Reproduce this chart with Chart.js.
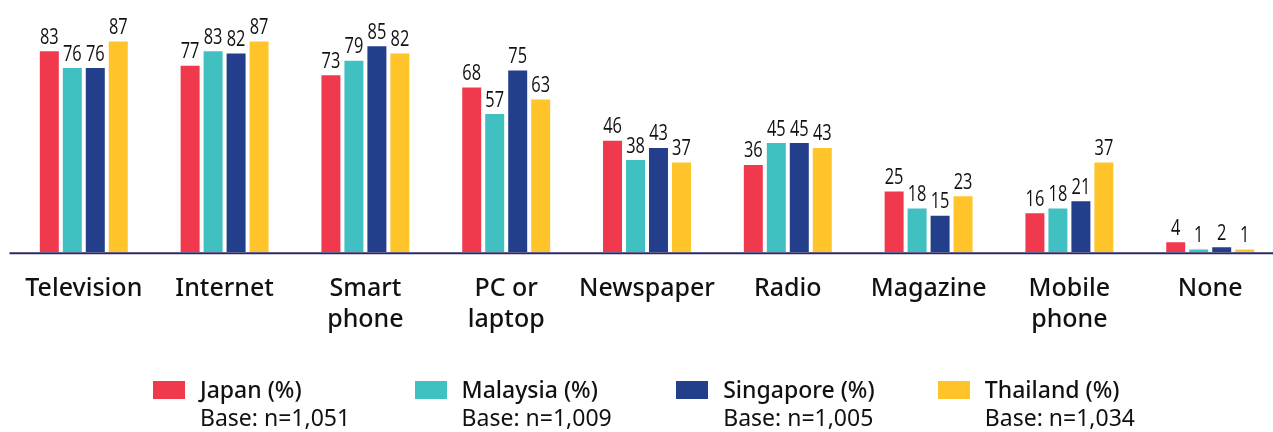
<!DOCTYPE html>
<html>
<head>
<meta charset="utf-8">
<script src="https://cdn.jsdelivr.net/npm/chart.js@4.4.1/dist/chart.umd.min.js"></script>
<style>
  html, body { margin: 0; padding: 0; background: #ffffff; overflow: hidden; width: 1273px; height: 432px; }
  #wrap { position: absolute; left: 0; top: 0; width: 1282px; height: 432px; }
  #legend { position: absolute; left: 0; top: 0; width: 1273px; height: 432px; pointer-events: none; }
  .lg-item { position: absolute; top: 381px; }
  .lg-box { position: absolute; left: 0; top: 0; width: 32px; height: 18px; }
  .lg-text { position: absolute; left: 47px; top: -6px; white-space: nowrap; font-family: "Noto Sans", sans-serif; color: #111; font-size: 23px; line-height: 28px; }
  .lg-text .name { font-weight: 500; }
</style>
</head>
<body>
<div id="wrap"><canvas id="c" width="1282" height="432"></canvas></div>
<div id="legend"></div>
<script>
const categories = [["Television"], ["Internet"], ["Smart", "phone"], ["PC or", "laptop"], ["Newspaper"], ["Radio"], ["Magazine"], ["Mobile", "phone"], ["None"]];
const japan     = [83, 77, 73, 68, 46, 36, 25, 16, 4];
const malaysia  = [76, 83, 79, 57, 38, 45, 18, 18, 1];
const singapore = [76, 82, 85, 75, 43, 45, 15, 21, 2];
const thailand  = [87, 87, 82, 63, 37, 43, 23, 37, 1];
const seriesNames = ["Japan (%)", "Malaysia (%)", "Singapore (%)", "Thailand (%)"];
const seriesBases = ["Base: n=1,051", "Base: n=1,009", "Base: n=1,005", "Base: n=1,034"];
const seriesColors = ["#F0394D", "#41C0C1", "#233E8B", "#FEC42A"];

const seriesData = [japan, malaysia, singapore, thailand];

const valueLabels = {
  id: "valueLabels",
  afterDatasetsDraw(chart) {
    const ctx = chart.ctx;
    chart.data.datasets.forEach((ds, i) => {
      const meta = chart.getDatasetMeta(i);
      meta.data.forEach((bar, j) => {
        ctx.save();
        ctx.font = '21px "Open Sans", sans-serif';
        ctx.fillStyle = "#111";
        ctx.textAlign = "center";
        ctx.textBaseline = "alphabetic";
        ctx.translate(bar.x, bar.y - 7.5);
        ctx.scale(0.78, 1);
        ctx.fillText(String(ds.data[j]), 0, 0);
        ctx.restore();
      });
    });
  }
};

const baseLine = {
  id: "baseLine",
  afterDatasetsDraw(chart) {
    const ctx = chart.ctx;
    const y = chart.scales.y.getPixelForValue(0) + 1.3;
    ctx.save();
    ctx.strokeStyle = "#2E2A66";
    ctx.lineWidth = 2;
    ctx.beginPath();
    ctx.moveTo(9.5, y);
    ctx.lineTo(chart.width, y);
    ctx.stroke();
    ctx.restore();
  }
};

new Chart(document.getElementById("c"), {
  type: "bar",
  data: {
    labels: categories,
    datasets: seriesData.map((d, i) => ({
      label: seriesNames[i],
      data: d,
      backgroundColor: seriesColors[i],
      borderWidth: 0,
      categoryPercentage: 0.653,
      barPercentage: 0.826
    }))
  },
  options: {
    responsive: false,
    animation: false,
    devicePixelRatio: 1,
    layout: { padding: { top: 10, left: 13.4, right: 1.4, bottom: 0 } },
    plugins: { legend: { display: false }, tooltip: { enabled: false } },
    scales: {
      x: {
        grid: { display: false, drawTicks: false },
        border: { display: false },
        ticks: {
          color: "#111",
          padding: 21,
          maxRotation: 0,
          autoSkip: false,
          font: { family: "Noto Sans", size: 25, weight: 500, lineHeight: 1.24 }
        },
        afterFit(scale) { scale.height = 180; }
      },
      y: {
        display: false,
        min: 0,
        max: 100
      }
    }
  },
  plugins: [valueLabels, baseLine]
});

const legend = document.getElementById("legend");
seriesNames.forEach((name, i) => {
  const item = document.createElement("div");
  item.className = "lg-item";
  item.style.left = (153 + i * 261.6) + "px";
  const box = document.createElement("div");
  box.className = "lg-box";
  box.style.background = seriesColors[i];
  const txt = document.createElement("div");
  txt.className = "lg-text";
  const n = document.createElement("div");
  n.className = "name";
  n.textContent = name;
  const b = document.createElement("div");
  b.textContent = seriesBases[i];
  txt.appendChild(n);
  txt.appendChild(b);
  item.appendChild(box);
  item.appendChild(txt);
  legend.appendChild(item);
});
</script>
</body>
</html>
